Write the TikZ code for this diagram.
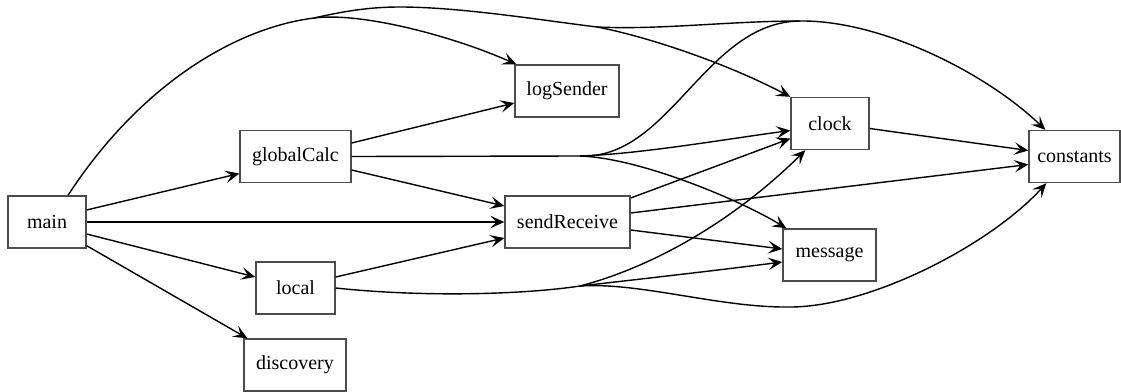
\documentclass[tikz,border=0pt]{standalone}
\usepackage{fontspec}
\setmainfont{Liberation Serif}
\newfontfamily\modfont{Liberation Serif}
\usetikzlibrary{arrows.meta,calc}
\tikzset{
  modbox/.style={draw=black!70, line width=1.4pt, rectangle, minimum height=52pt,
    inner sep=0pt, font=\modfont\fontsize{20}{24}\selectfont},
  dep/.style={line width=1.4pt, -{Stealth[length=14pt,width=12.5pt,inset=6pt]}},
  trunk/.style={line width=1.4pt}
}
\begin{document}
\begin{tikzpicture}[x=1pt,y=-1pt]
\useasboundingbox (0,0) rectangle (1121,391);

% modules
\node[modbox, minimum width=78pt]  (main)        at (47,222)    {main};
\node[modbox, minimum width=111pt] (globalCalc)  at (295.5,156.5) {globalCalc};
\node[modbox, minimum width=79pt]  (local)       at (295.5,288) {local};
\node[modbox, minimum width=102pt] (discovery)   at (295,365)   {discovery};
\node[modbox, minimum width=104pt] (logSender)   at (567,91)    {logSender};
\node[modbox, minimum width=125pt] (sendReceive) at (567.5,222) {sendReceive};
\node[modbox, minimum width=78pt]  (clock)       at (830,123.5) {clock};
\node[modbox, minimum width=93pt]  (message)     at (829.5,255) {message};
\node[modbox, minimum width=91pt]  (constants)   at (1074.5,156.5) {constants};

% junction points of merged edges
\coordinate (mTop)   at (314,18);
\coordinate (mPeak)  at (400,7);
\coordinate (mSplit) at (597,27);
\coordinate (cJoin)  at (800,21);
\coordinate (gSplit) at (580,156);
\coordinate (lSplit) at (580,286);
\coordinate (lDip)   at (790,307);

% direct dependencies of main
\draw[dep] ($(main.east)+(0,-12)$) -- ($(globalCalc.west)+(0,17)$);
\draw[dep] (main.east) -- (sendReceive.west);
\draw[dep] ($(main.east)+(0,12)$) -- ($(local.west)+(0,-11)$);
\draw[dep] ($(main.south east)+(0,-3)$) -- ($(discovery.north west)+(4,0)$);

% main: shared upper route to logSender, clock and constants
\draw[trunk] ($(main.north)+(21,0)$) .. controls (140,85) and (235,28) .. (mTop);
\draw[dep] (mTop) .. controls (360,12) and (450,35) .. ($(logSender.north west)+(2,0)$);
\draw[trunk] (mTop) .. controls (345,11) and (370,7) .. (mPeak)
  .. controls (460,7) and (540,20) .. (mSplit);
\draw[dep] (mSplit) .. controls (640,35) and (720,60) .. (clock.north west);
\draw[trunk] (mSplit) .. controls (660,30) and (730,21) .. (cJoin);
\draw[dep] (cJoin) .. controls (880,20) and (985,72) .. ($(constants.north west)+(17,0)$);

% globalCalc
\draw[dep] ($(globalCalc.east)+(0,-13.5)$) -- ($(logSender.west)+(0,12)$);
\draw[dep] ($(globalCalc.east)+(0,13.5)$) -- ($(sendReceive.west)+(0,-16)$);
\draw[trunk] (globalCalc.east) -- (gSplit);
\draw[dep] (gSplit) .. controls (640,154) and (720,140) .. ($(clock.west)+(0,7)$);
\draw[dep] (gSplit) .. controls (640,158) and (740,200) .. ($(message.north west)+(4,0)$);
\draw[trunk] (gSplit) .. controls (670,160) and (705,22) .. (cJoin);

% local
\draw[dep] ($(local.east)+(0,-11)$) -- ($(sendReceive.west)+(0,16)$);
\draw[trunk] (local.east) .. controls (420,297) and (520,295) .. (lSplit);
\draw[dep] (lSplit) .. controls (660,265) and (740,215) .. ($(clock.south west)+(15,0)$);
\draw[dep] (lSplit) .. controls (650,278) and (720,270) .. ($(message.west)+(0,7)$);
\draw[trunk] (lSplit) .. controls (640,282) and (720,308) .. (lDip);
\draw[dep] (lDip) .. controls (870,307) and (990,245) .. ($(constants.south west)+(18,0)$);

% sendReceive
\draw[dep] ($(sendReceive.east)+(0,-24)$) -- ($(clock.west)+(0,15)$);
\draw[dep] ($(sendReceive.east)+(0,-9)$) -- ($(constants.west)+(0,8)$);
\draw[dep] ($(sendReceive.east)+(0,8)$) -- ($(message.west)+(0,-6)$);

% clock
\draw[dep] ($(clock.east)+(0,5)$) -- ($(constants.west)+(0,-6)$);
\end{tikzpicture}
\end{document}
